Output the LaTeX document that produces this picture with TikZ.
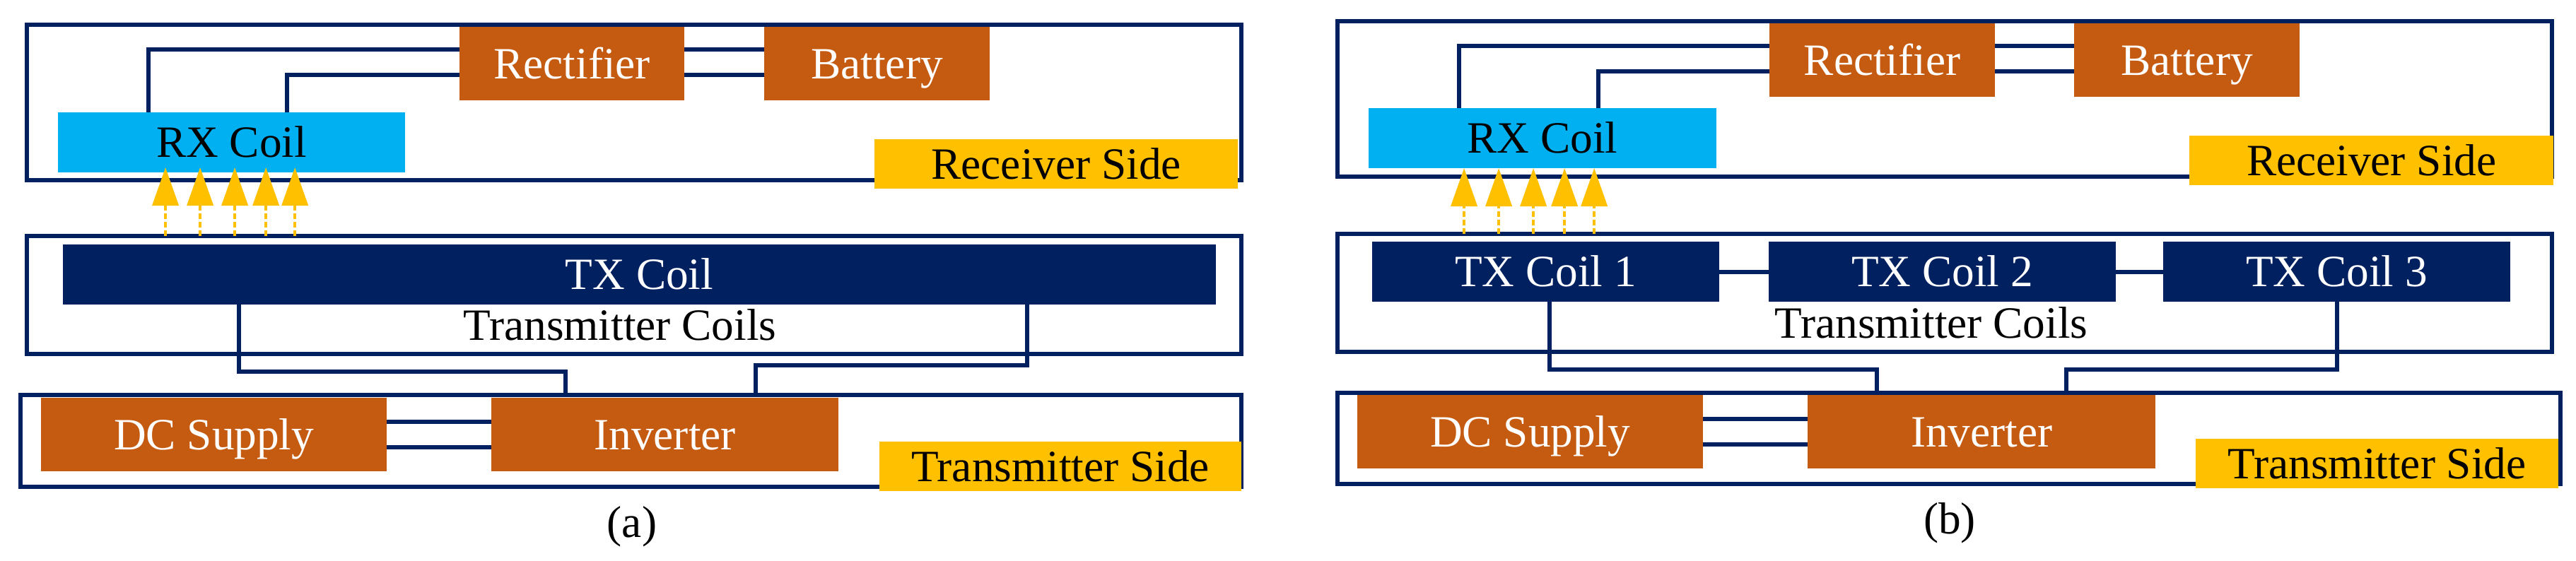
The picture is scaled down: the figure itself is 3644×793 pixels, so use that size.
\documentclass[tikz,border=0pt]{standalone}
\usepackage{fontspec}
\setmainfont{Liberation Serif}
\usetikzlibrary{arrows.meta}

\definecolor{navy}{HTML}{002060}
\definecolor{rust}{HTML}{C55A11}
\definecolor{skyblue}{HTML}{00B0F0}
\definecolor{gold}{HTML}{FFC000}

\tikzset{
    sidebox/.style={draw=navy, line width=0.065cm, anchor=north west, inner sep=0pt, outer sep=0pt},
    blk/.style={anchor=north west, inner sep=0pt, outer sep=0pt, text height=16pt, text depth=4pt},
    unit/.style={blk, fill=rust, text=white},
    coil/.style={blk, fill=navy, text=white},
    rxcoil/.style={blk, fill=skyblue, text=black},
    tag/.style={blk, fill=gold, text=black},
    wire/.style={draw=navy, line width=0.06cm},
    flux/.style={draw=gold, line width=0.04cm, dash pattern=on 0.08cm off 0.04cm, -{Triangle[length=0.54cm, width=0.37cm]}}
}

\begin{document}
\begin{tikzpicture}[x=0.01cm, y=-0.01cm, font=\fontsize{18}{20}\selectfont]
    \useasboundingbox (0,0) rectangle (3644,793);

    % (a) single TX coil
    \node[sidebox, minimum width=17.17cm, minimum height=2.20cm] (rxboxa) at (38,35) {};
    \node[sidebox, minimum width=17.17cm, minimum height=1.67cm] (txboxa) at (38,334) {};
    \node[sidebox, minimum width=17.26cm, minimum height=1.30cm] (trboxa) at (29,559) {};

    \node[unit, minimum width=3.18cm, minimum height=1.04cm] (recta) at (650,38) {Rectifier};
    \node[unit, minimum width=3.19cm, minimum height=1.04cm] (batta) at (1081,38) {Battery};
    \node[rxcoil, minimum width=4.91cm, minimum height=0.85cm] (rxa) at (82,159) {RX Coil};
    \node[tag, minimum width=5.14cm, minimum height=0.61cm] (rxsidea) at (1237,197) {Receiver Side};

    \node[coil, minimum width=16.30cm, minimum height=0.85cm] (txca) at (89,346) {TX Coil};
    \node (txnamea) at (877,460) {Transmitter Coils};

    \node[unit, minimum width=4.89cm, minimum height=1.04cm] (dca) at (58,563) {DC Supply};
    \node[unit, minimum width=4.91cm, minimum height=1.04cm] (inva) at (695,563) {Inverter};
    \node[tag, minimum width=5.12cm, minimum height=0.65cm] (trsidea) at (1244,625) {Transmitter Side};

    \node (capa) at (894,745) {(a)};

    \draw[wire] ([xshift=1.28cm]rxa.north west) |- ([yshift=0.2cm]recta.west);
    \draw[wire] ([xshift=3.24cm]rxa.north west) |- ([yshift=-0.16cm]recta.west);
    \draw[wire] ([yshift=0.2cm]recta.east) -- ([yshift=0.2cm]batta.west);
    \draw[wire] ([yshift=-0.16cm]recta.east) -- ([yshift=-0.16cm]batta.west);
    \draw[wire] ([xshift=2.49cm]txca.south west) -- ++(0,95) -| ([xshift=7.71cm]trboxa.north west);
    \draw[wire] ([xshift=-2.67cm]txca.south east) -- ++(0,86) -| ([xshift=10.39cm]trboxa.north west);
    \draw[wire] ([yshift=0.18cm]dca.east) -- ([yshift=0.18cm]inva.west);
    \draw[wire] ([yshift=-0.18cm]dca.east) -- ([yshift=-0.18cm]inva.west);

    \coordinate (fluxa) at (rxa.south west |- txboxa.north);
    \foreach \dx in {1.52,2.01,2.50,2.94,3.35}
        \draw[flux] ([xshift=\dx cm]fluxa) -- ([xshift=\dx cm, yshift=0.07cm]rxa.south west);

    % (b) three TX coils
    \node[sidebox, minimum width=17.17cm, minimum height=2.20cm] (rxboxb) at (1892,30) {};
    \node[sidebox, minimum width=17.17cm, minimum height=1.67cm] (txboxb) at (1892,331) {};
    \node[sidebox, minimum width=17.29cm, minimum height=1.29cm] (trboxb) at (1892,556) {};

    \node[unit, minimum width=3.19cm, minimum height=1.04cm] (rectb) at (2503,33) {Rectifier};
    \node[unit, minimum width=3.19cm, minimum height=1.04cm] (battb) at (2934,33) {Battery};
    \node[rxcoil, minimum width=4.92cm, minimum height=0.85cm] (rxb) at (1936,153) {RX Coil};
    \node[tag, minimum width=5.15cm, minimum height=0.60cm] (rxsideb) at (3097,192) {Receiver Side};

    \node[coil, minimum width=4.91cm, minimum height=0.85cm] (txc1b) at (1941,342) {TX Coil 1};
    \node[coil, minimum width=4.91cm, minimum height=0.85cm] (txc2b) at (2502,342) {TX Coil 2};
    \node[coil, minimum width=4.91cm, minimum height=0.85cm] (txc3b) at (3060,342) {TX Coil 3};
    \node (txnameb) at (2732,457) {Transmitter Coils};

    \node[unit, minimum width=4.89cm, minimum height=1.04cm] (dcb) at (1920,559) {DC Supply};
    \node[unit, minimum width=4.92cm, minimum height=1.04cm] (invb) at (2557,559) {Inverter};
    \node[tag, minimum width=5.13cm, minimum height=0.64cm] (trsideb) at (3106,621) {Transmitter Side};

    \node (capb) at (2758,740) {(b)};

    \draw[wire] ([xshift=1.28cm]rxb.north west) |- ([yshift=0.2cm]rectb.west);
    \draw[wire] ([xshift=3.25cm]rxb.north west) |- ([yshift=-0.16cm]rectb.west);
    \draw[wire] ([yshift=0.2cm]rectb.east) -- ([yshift=0.2cm]battb.west);
    \draw[wire] ([yshift=-0.16cm]rectb.east) -- ([yshift=-0.16cm]battb.west);
    \draw[wire] (txc1b.east) -- (txc2b.west);
    \draw[wire] (txc2b.east) -- (txc3b.west);
    \draw[wire] ([xshift=0.05cm]txc1b.south) -- ++(0,96) -| ([xshift=7.63cm]trboxb.north west);
    \draw[wire] (txc3b.south) -- ++(0,96) -| ([xshift=10.30cm]trboxb.north west);
    \draw[wire] ([yshift=0.18cm]dcb.east) -- ([yshift=0.18cm]invb.west);
    \draw[wire] ([yshift=-0.18cm]dcb.east) -- ([yshift=-0.18cm]invb.west);

    \coordinate (fluxb) at (rxb.south west |- txboxb.north);
    \foreach \dx in {1.35,1.84,2.33,2.77,3.19}
        \draw[flux] ([xshift=\dx cm]fluxb) -- ([xshift=\dx cm]rxb.south west);
\end{tikzpicture}
\end{document}
